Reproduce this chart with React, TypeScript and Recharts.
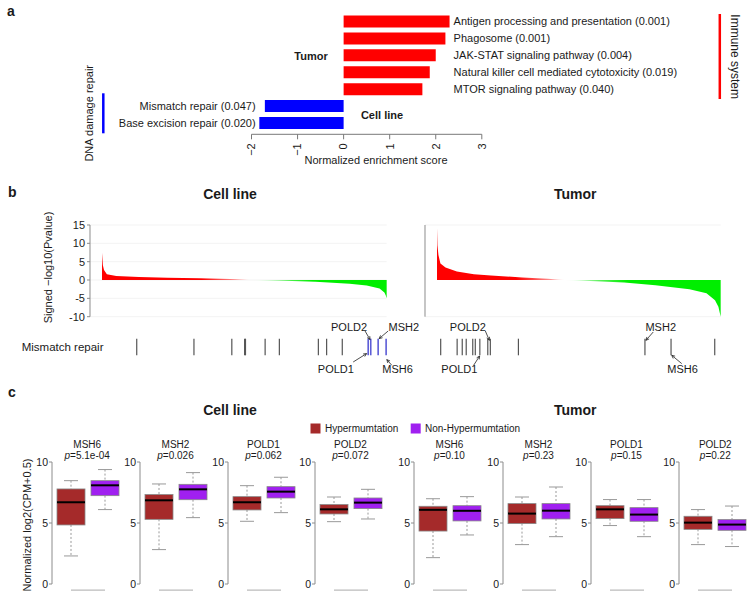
import React from "react";
import {
  BarChart,
  Bar,
  Cell,
  LabelList,
  XAxis,
  YAxis,
  AreaChart,
  Area,
  CartesianGrid,
  ScatterChart,
  Scatter,
  ComposedChart,
  ReferenceLine,
} from "recharts";

const FONT = "'Liberation Sans', Arial, Helvetica, sans-serif";
const INK = "#1a1a1a";
const AXIS = "#8c8c8c";
const BROWN = "#a52a2a";
const PURPLE = "#a020f0";

// ---- panel a: pathway enrichment
const pathways = [
  "Antigen processing and presentation",
  "Phagosome",
  "JAK-STAT signaling pathway",
  "Natural killer cell mediated cytotoxicity",
  "MTOR signaling pathway",
  "Mismatch repair",
  "Base excision repair",
];
const pathwayFdr = ["0.001", "0.001", "0.004", "0.019", "0.040", "0.047", "0.020"];
const nes = [2.3, 2.21, 2.0, 1.87, 1.71, -1.71, -1.83];
const nesTicks = [-2, -1, 0, 1, 2, 3];

// ---- panel b: ranked genes (rank in % of genes)
const cellRank = [0, 0.3, 0.7, 1.7, 5, 13, 23, 34, 45, 50, 52, 55, 64, 75, 87, 93, 97.5, 99.2, 99.7, 100];
const cellScore = [7.4, 4.0, 2.7, 1.6, 1.1, 0.85, 0.65, 0.5, 0.3, 0.12, 0, -0.05, -0.2, -0.5, -1.0, -1.5, -2.3, -3.4, -4.2, -5.0];
const tumorRank = [0, 0.15, 0.5, 1.2, 3, 7, 13, 19, 30, 39, 45, 54, 66, 77, 89, 95, 98, 99.2, 100];
const tumorScore = [14.1, 9.5, 6.8, 4.5, 3.4, 2.3, 1.6, 1.2, 0.7, 0.35, 0, -0.3, -0.7, -1.4, -2.5, -3.6, -5.5, -7.3, -10];
const pvalTicks = [-10, -5, 0, 5, 10, 15];

const cellMmrRank = [12.2, 32.3, 45.6, 50.1, 50.4, 57.3, 62.3, 76.0, 78.9, 84.4, 93.5, 94.4, 97.0, 99.8];
const cellMmrGene = ["", "", "", "", "", "", "", "", "", "", "POLD1", "POLD2", "MSH2", "MSH6"];
const tumorMmrRank = [1.3, 7.1, 8.9, 10.3, 12.6, 13.5, 15.1, 17.9, 18.8, 28.7, 73.3, 82.5, 97.9];
const tumorMmrGene = ["", "", "", "", "", "", "POLD1", "", "POLD2", "", "MSH2", "MSH6", ""];

// ---- panel c: expression boxes [min, q1, median, q3, max]
const genes = ["MSH6", "MSH2", "POLD1", "POLD2"];
const cellP = ["5.1e-04", "0.026", "0.062", "0.072"];
const tumorP = ["0.10", "0.23", "0.15", "0.22"];
const cellHyper = [
  [2.3, 4.84, 6.7, 7.79, 8.47],
  [2.82, 5.3, 6.86, 7.33, 8.2],
  [5.14, 6.07, 6.7, 7.16, 8.06],
  [5.11, 5.74, 6.12, 6.51, 7.13],
];
const cellNonHyper = [
  [6.1, 7.24, 8.09, 8.47, 9.38],
  [5.44, 6.91, 7.76, 8.17, 9.13],
  [5.85, 7.05, 7.57, 7.98, 8.75],
  [5.33, 6.18, 6.67, 7.05, 7.76],
];
const tumorHyper = [
  [2.16, 4.34, 6.08, 6.37, 6.99],
  [3.23, 4.95, 5.77, 6.59, 7.13],
  [4.79, 5.36, 6.12, 6.42, 6.92],
  [3.23, 4.48, 5.03, 5.55, 6.1],
];
const tumorNonHyper = [
  [4.02, 5.17, 6.0, 6.42, 7.16],
  [3.88, 5.33, 6.01, 6.59, 7.95],
  [3.88, 5.14, 5.69, 6.26, 6.92],
  [3.07, 4.4, 4.87, 5.28, 6.39],
];
const boxTicks = [0, 5, 10];

const pathwayData = pathways.map((p, i) => ({ name: p, nes: nes[i], label: `${p} (${pathwayFdr[i]})` }));
const cellCurve = cellRank.map((r, i) => ({ rank: r, score: cellScore[i] }));
const tumorCurve = tumorRank.map((r, i) => ({ rank: r, score: tumorScore[i] }));
const cellRug = cellMmrRank.map((r, i) => ({ rank: r, y: 0, gene: cellMmrGene[i] }));
const tumorRug = tumorMmrRank.map((r, i) => ({ rank: r, y: 0, gene: tumorMmrGene[i] }));

// label / arrow offsets relative to the tick mark
const cellLabelPos: Record<string, number[]> = {
  POLD1: [-32.3, 26.3, -15, 15, -1.6, 6.6],
  POLD2: [-21.7, -16.2, -5.7, -16, -0.7, -7.4],
  MSH2: [25.7, -16.2, 10, -16, 1, -8.4],
  MSH6: [11.5, 26.3, 5.7, 18.3, 0.7, 12.6],
};
const tumorLabelPos: Record<string, number[]> = {
  POLD1: [-20.5, 26.3, -6.2, 18.3, -0.2, 9],
  POLD2: [-22.5, -16.2, -5, -16, -1, -6.7],
  MSH2: [15.8, -16.2, 8.3, -15, 1, -6.7],
  MSH6: [11.5, 26.3, 10.7, 16.6, 0.7, 8.3],
};

function Arrow({ x1, y1, x2, y2 }: { x1: number; y1: number; x2: number; y2: number }) {
  const a = Math.atan2(y2 - y1, x2 - x1);
  const h = 3.5;
  const p1 = `${x2 - h * Math.cos(a - 0.45)},${y2 - h * Math.sin(a - 0.45)}`;
  const p2 = `${x2 - h * Math.cos(a + 0.45)},${y2 - h * Math.sin(a + 0.45)}`;
  return (
    <g stroke="#222" strokeWidth={0.8} fill="none">
      <line x1={x1} y1={y1} x2={x2} y2={y2} />
      <polyline points={`${p1} ${x2},${y2} ${p2}`} />
    </g>
  );
}

function RugMark(props: any) {
  const { cx, cy, payload, highlight, placements } = props;
  const named = payload.gene && placements[payload.gene];
  const blue = highlight && payload.gene;
  return (
    <g>
      <line
        x1={cx}
        x2={cx}
        y1={cy - 8.3}
        y2={cy + 8.3}
        stroke={blue ? "#5c5cd6" : "#555"}
        strokeWidth={blue ? 1.6 : 1.2}
      />
      {named && (
        <>
          <text
            x={cx + named[0]}
            y={cy + named[1]}
            textAnchor="middle"
            fontSize={11}
            fill={INK}
            fontFamily={FONT}
          >
            {payload.gene}
          </text>
          <Arrow x1={cx + named[2]} y1={cy + named[3]} x2={cx + named[4]} y2={cy + named[5]} />
        </>
      )}
    </g>
  );
}

function NesTick(props: any) {
  const { x, y, payload } = props;
  const v = payload.value;
  const s = v < 0 ? `\u2212${Math.abs(v)}` : `${v}`;
  return (
    <text
      x={x}
      y={y + 2}
      transform={`rotate(-90 ${x} ${y + 2})`}
      textAnchor="end"
      dy="0.35em"
      fontSize={11}
      fill={INK}
      fontFamily={FONT}
    >
      {s}
    </text>
  );
}

function PathwayLabel(props: any) {
  const vb = props.viewBox ?? props;
  const { x, y, width, height } = vb;
  const i = props.index;
  const v = pathwayData[i].nes;
  const zero = v >= 0 ? Math.min(x, x + width) : Math.max(x, x + width);
  return (
    <text
      x={v >= 0 ? zero + 110 : zero - 88}
      y={y + height / 2}
      dy="0.35em"
      textAnchor={v >= 0 ? "start" : "end"}
      fontSize={11}
      fill={INK}
      fontFamily={FONT}
    >
      {pathwayData[i].label}
    </text>
  );
}

function BoxShape(props: any) {
  const { x, y, width, height, payload } = props;
  const [mn, q1, med, q3, mx] = payload.stats;
  const top = Math.min(y, y + height);
  const bot = Math.max(y, y + height);
  const k = (bot - top) / (q3 - q1);
  const py = (v: number) => top + (q3 - v) * k;
  const cx = x + width / 2;
  const cap = width / 4;
  return (
    <g>
      <line x1={cx} x2={cx} y1={py(mx)} y2={top} stroke="#999" strokeDasharray="2 2" />
      <line x1={cx} x2={cx} y1={bot} y2={py(mn)} stroke="#999" strokeDasharray="2 2" />
      <line x1={cx - cap} x2={cx + cap} y1={py(mx)} y2={py(mx)} stroke="#999" />
      <line x1={cx - cap} x2={cx + cap} y1={py(mn)} y2={py(mn)} stroke="#999" />
      <rect x={x} y={top} width={width} height={bot - top} fill={payload.fill} stroke="#888" strokeWidth={0.8} />
      <line x1={x} x2={x + width} y1={py(med)} y2={py(med)} stroke="#000" strokeWidth={2} />
    </g>
  );
}

function BoxPanel({ left, hyper, non }: { left: number; hyper: number[]; non: number[] }) {
  const data = [
    { group: "Hyper", stats: hyper, fill: BROWN },
    { group: "Non", stats: non, fill: PURPLE },
  ];
  return (
    <div style={{ position: "absolute", left: left - 30, top: 451.7 }}>
      <ComposedChart width={102} height={142} data={data} margin={{ top: 10, right: 2, bottom: 10, left: 0 }}>
        <XAxis dataKey="group" type="category" hide padding={{ left: 2, right: 0 }} />
        <YAxis
          type="number"
          domain={[0, 10]}
          ticks={boxTicks}
          width={30}
          stroke={AXIS}
          tickSize={3}
          tickMargin={1}
          interval={0}
          tick={{ fontSize: 10.5, fill: INK, fontFamily: FONT }}
        />
        <Bar
          dataKey={(d: any) => [d.stats[1], d.stats[3]]}
          barSize={28}
          shape={BoxShape}
          isAnimationActive={false}
        />
        <ReferenceLine
          segment={[
            { x: "Hyper", y: -0.5 },
            { x: "Non", y: -0.5 },
          ]}
          stroke="#aaa"
          ifOverflow="visible"
        />
      </ComposedChart>
    </div>
  );
}

function Waterfall({
  left,
  width,
  axisWidth,
  data,
  id,
  cross,
  showLabels,
}: {
  left: number;
  width: number;
  axisWidth: number;
  data: any[];
  id: string;
  cross: number;
  showLabels: boolean;
}) {
  return (
    <div style={{ position: "absolute", left, top: 215 }}>
      <AreaChart width={width} height={106.7} data={data} margin={{ top: 10, right: 0, bottom: 5, left: 0 }}>
        <defs>
          <linearGradient id={id} x1="0" y1="0" x2="1" y2="0">
            <stop offset="0" stopColor="#ff0000" />
            <stop offset={cross - 0.17} stopColor="#ff0000" />
            <stop offset={cross - 0.05} stopColor="#ff9090" />
            <stop offset={cross} stopColor="#fff4f4" />
            <stop offset={cross + 0.03} stopColor="#e8ffe8" />
            <stop offset={cross + 0.12} stopColor="#60f060" />
            <stop offset={cross + 0.22} stopColor="#00ee00" />
            <stop offset="1" stopColor="#00ee00" />
          </linearGradient>
        </defs>
        <CartesianGrid horizontal vertical={false} stroke="#f3f3f3" />
        <XAxis dataKey="rank" type="number" domain={[0, 100]} hide padding={{ left: 12, right: 0 }} />
        <YAxis
          type="number"
          domain={[-10, 15]}
          ticks={pvalTicks}
          interval={0}
          width={axisWidth}
          stroke={AXIS}
          tickSize={3}
          tick={showLabels ? { fontSize: 11, fill: INK, fontFamily: FONT } : false}
        />
        <Area
          type="linear"
          dataKey="score"
          stroke="none"
          fill={`url(#${id})`}
          fillOpacity={1}
          baseValue={0}
          isAnimationActive={false}
        />
      </AreaChart>
    </div>
  );
}

function Rug({
  left,
  width,
  right,
  data,
  highlight,
  placements,
}: {
  left: number;
  width: number;
  right: number;
  data: any[];
  highlight: boolean;
  placements: Record<string, number[]>;
}) {
  return (
    <div style={{ position: "absolute", left, top: 316.7 }}>
      <ScatterChart width={width + right} height={60} margin={{ top: 0, right, bottom: 0, left: 0 }}>
        <XAxis dataKey="rank" type="number" domain={[0, 100]} hide padding={{ left: 12, right: 0 }} />
        <YAxis dataKey="y" type="number" domain={[-1, 1]} hide />
        <Scatter
          data={data}
          isAnimationActive={false}
          shape={(p: any) => <RugMark {...p} highlight={highlight} placements={placements} />}
        />
      </ScatterChart>
    </div>
  );
}

const cellAxes = [51.7, 140, 228, 315];
const tumorAxes = [413.5, 502.5, 590.5, 679.3];

export default function App() {
  const bold = { fontWeight: 700 } as const;
  return (
    <div
      style={{
        position: "absolute",
        left: 0,
        top: 0,
        width: 754,
        height: 604,
        background: "#fff",
        fontFamily: FONT,
        overflow: "hidden",
      }}
    >
      {/* panel a */}
      <div style={{ position: "absolute", left: 100, top: 12.7 }}>
        <BarChart
          layout="vertical"
          width={640}
          height={151.3}
          data={pathwayData}
          margin={{ top: 0, right: 258.2, bottom: 0, left: 151.5 }}
          barCategoryGap="15%"
        >
          <XAxis
            type="number"
            domain={[-2, 3]}
            ticks={nesTicks}
            interval={0}
            height={30}
            stroke="#777"
            tickSize={5}
            tick={<NesTick />}
          />
          <YAxis type="category" dataKey="name" hide padding={{ top: 0, bottom: 3 }} />
          <Bar dataKey="nes" isAnimationActive={false}>
            {pathwayData.map((d, i) => (
              <Cell key={i} fill={d.nes >= 0 ? "#ff0000" : "#0000ff"} />
            ))}
            <LabelList dataKey="label" content={<PathwayLabel />} />
          </Bar>
        </BarChart>
      </div>

      {/* panel b */}
      <Waterfall left={50} width={336.7} axisWidth={40} data={cellCurve} id="gradCell" cross={0.52} showLabels />
      <Waterfall left={405} width={315.7} axisWidth={20} data={tumorCurve} id="gradTumor" cross={0.45} showLabels={false} />
      <Rug left={90} width={296.7} right={50} data={cellRug} highlight placements={cellLabelPos} />
      <Rug left={425} width={295.7} right={30} data={tumorRug} highlight={false} placements={tumorLabelPos} />

      {/* panel c */}
      {genes.map((g, i) => (
        <BoxPanel key={"c" + g} left={cellAxes[i]} hyper={cellHyper[i]} non={cellNonHyper[i]} />
      ))}
      {genes.map((g, i) => (
        <BoxPanel key={"t" + g} left={tumorAxes[i]} hyper={tumorHyper[i]} non={tumorNonHyper[i]} />
      ))}

      <svg
        width={754}
        height={604}
        style={{ position: "absolute", left: 0, top: 0, pointerEvents: "none" }}
        fontFamily={FONT}
        fill={INK}
      >
        {/* a */}
        <text x={7} y={16} fontSize={14} {...bold}>a</text>
        <text x={311} y={59.5} fontSize={11} textAnchor="middle" {...bold}>Tumor</text>
        <text x={382} y={119} fontSize={11} textAnchor="middle" {...bold}>Cell line</text>
        <line x1={719.8} x2={719.8} y1={14} y2={99} stroke="#ff0000" strokeWidth={2.5} />
        <text transform="translate(734.5,56.7) rotate(90)" textAnchor="middle" dominantBaseline="central" fontSize={12}>
          Immune system
        </text>
        <line x1={103.3} x2={103.3} y1={93.3} y2={133.3} stroke="#0000ff" strokeWidth={2.5} />
        <text transform="translate(89,113.3) rotate(-90)" textAnchor="middle" dominantBaseline="central" fontSize={11}>
          DNA damage repair
        </text>
        <text x={376} y={164} fontSize={11} textAnchor="middle">Normalized enrichment score</text>

        {/* b */}
        <text x={8} y={196.5} fontSize={14} {...bold}>b</text>
        <text x={230} y={199} fontSize={14} textAnchor="middle" {...bold}>Cell line</text>
        <text x={575.3} y={199} fontSize={14} textAnchor="middle" {...bold}>Tumor</text>
        <text transform="translate(47.5,267.5) rotate(-90)" textAnchor="middle" dominantBaseline="central" fontSize={11}>
          Signed −log10(Pvalue)
        </text>
        <text x={21.7} y={350.5} fontSize={11.5}>Mismatch repair</text>

        {/* c */}
        <text x={8} y={396.5} fontSize={14} {...bold}>c</text>
        <text x={230} y={414.5} fontSize={14} textAnchor="middle" {...bold}>Cell line</text>
        <text x={575.3} y={414.5} fontSize={14} textAnchor="middle" {...bold}>Tumor</text>
        <rect x={310.5} y={423.5} width={10} height={10} fill={BROWN} />
        <text x={325} y={432} fontSize={10}>Hypermumtation</text>
        <rect x={410.7} y={423.5} width={10} height={10} fill={PURPLE} />
        <text x={425} y={432} fontSize={10}>Non-Hypermumtation</text>
        <text transform="translate(26.5,525) rotate(-90)" textAnchor="middle" dominantBaseline="central" fontSize={11}>
          Normalized log2(CPM+0.5)
        </text>
        {genes.map((g, i) => (
          <g key={"ct" + g} fontSize={10} textAnchor="middle">
            <text x={cellAxes[i] + 35.5} y={447.5}>{g}</text>
            <text x={cellAxes[i] + 35.5} y={459}>
              <tspan fontStyle="italic">p</tspan>={cellP[i]}
            </text>
          </g>
        ))}
        {genes.map((g, i) => (
          <g key={"tt" + g} fontSize={10} textAnchor="middle">
            <text x={tumorAxes[i] + 36} y={447.5}>{g}</text>
            <text x={tumorAxes[i] + 36} y={459}>
              <tspan fontStyle="italic">p</tspan>={tumorP[i]}
            </text>
          </g>
        ))}
      </svg>
    </div>
  );
}
